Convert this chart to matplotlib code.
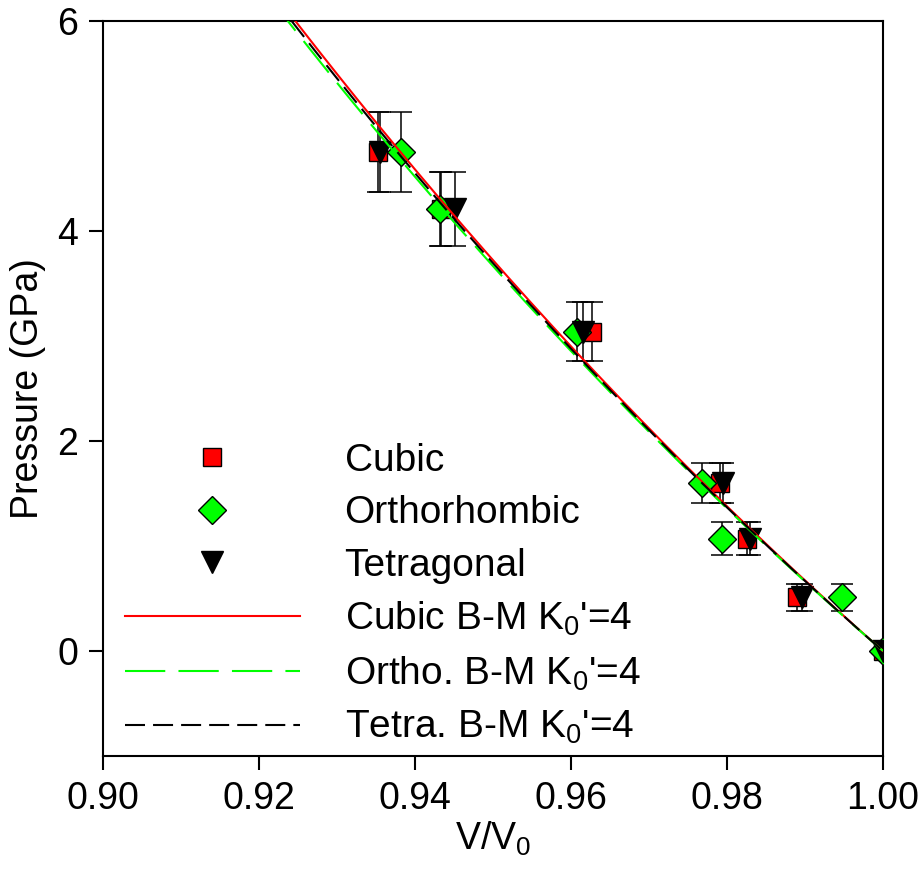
import matplotlib
matplotlib.use("Agg")
import matplotlib.pyplot as plt
import numpy as np

plt.rcParams["font.family"] = ["Liberation Sans", "DejaVu Sans"]
plt.rcParams["mathtext.fontset"] = "custom"
plt.rcParams["mathtext.rm"] = "Liberation Sans"
plt.rcParams["mathtext.it"] = "Liberation Sans"
plt.rcParams["lines.scale_dashes"] = False

# measured compression points (pressure in GPa, relative volume V/V0)
pressure = [0.0, 0.51, 1.07, 1.60, 3.04, 4.21, 4.75]
pressure_err = [0.0, 0.13, 0.16, 0.19, 0.28, 0.35, 0.38]
v_cubic = [1.000, 0.9890, 0.9826, 0.9791, 0.9627, 0.9433, 0.9353]
v_ortho = [1.000, 0.9947, 0.9794, 0.9768, 0.9608, 0.9432, 0.9382]
v_tetra = [1.000, 0.9896, 0.9829, 0.9795, 0.9615, 0.9451, 0.9355]

# fitted bulk moduli (GPa) for 3rd-order Birch-Murnaghan with K0' = 4
k0_cubic = 65.5
k0_ortho = 64.5
k0_tetra = 65.0


def birch_murnaghan(v, k0):
    # third-order B-M; with K0' = 4 the higher-order term vanishes
    return 1.5 * k0 * (v ** (-7.0 / 3.0) - v ** (-5.0 / 3.0))


fig = plt.figure(figsize=(9.22, 8.80), dpi=100)
ax = fig.add_axes([0.1117, 0.141, 0.846, 0.835])

fs = 27
err_kw = dict(fmt="none", ecolor="black", elinewidth=1.1, capsize=8, capthick=1.1, zorder=2)
ax.errorbar(v_cubic, pressure, yerr=pressure_err, **err_kw)
ax.errorbar(v_ortho, pressure, yerr=pressure_err, **err_kw)
ax.errorbar(v_tetra, pressure, yerr=pressure_err, **err_kw)

ax.plot(v_cubic, pressure, ls="none", marker="s", ms=13, mfc="#ff0000", mec="black",
        mew=1.0, label="Cubic", zorder=3)
ax.plot(v_ortho, pressure, ls="none", marker="D", ms=14, mfc="#00ff00", mec="black",
        mew=1.0, label="Orthorhombic", zorder=4)
ax.plot(v_tetra, pressure, ls="none", marker="v", ms=16, mfc="black", mec="black",
        mew=1.0, label="Tetragonal", zorder=5)

vv = np.linspace(0.915, 1.0, 300)
ax.plot(vv, birch_murnaghan(vv, k0_cubic), color="#ff0000", lw=1.5,
        label="Cubic B-M K$_0$'=4", zorder=6)
ax.plot(vv, birch_murnaghan(vv, k0_ortho), color="#00ff00", lw=1.5, dashes=(29, 9.5),
        label="Ortho. B-M K$_0$'=4", zorder=7)
ax.plot(vv, birch_murnaghan(vv, k0_tetra), color="black", lw=1.5, dashes=(14.4, 5.8),
        label="Tetra. B-M K$_0$'=4", zorder=8)

ax.set_xlim(0.90, 1.00)
ax.set_ylim(-1, 6)
ax.set_xticks([0.90, 0.92, 0.94, 0.96, 0.98, 1.00])
ax.set_xticklabels(["0.90", "0.92", "0.94", "0.96", "0.98", "1.00"])
ax.set_yticks([0, 2, 4, 6])
ax.tick_params(direction="out", length=10, width=1.5, labelsize=fs, pad=8)
for sp in ax.spines.values():
    sp.set_linewidth(1.5)

ax.set_xlabel("V/V$_0$", fontsize=fs, labelpad=2)
ax.set_ylabel("Pressure (GPa)", fontsize=fs, labelpad=8)

ax.legend(loc="upper left", bbox_to_anchor=(0.028, 0.426), frameon=False, fontsize=28,
          handlelength=4.5, handletextpad=1.15, labelspacing=0.42, borderpad=0,
          borderaxespad=0)

fig.savefig("out.png", dpi=100)
